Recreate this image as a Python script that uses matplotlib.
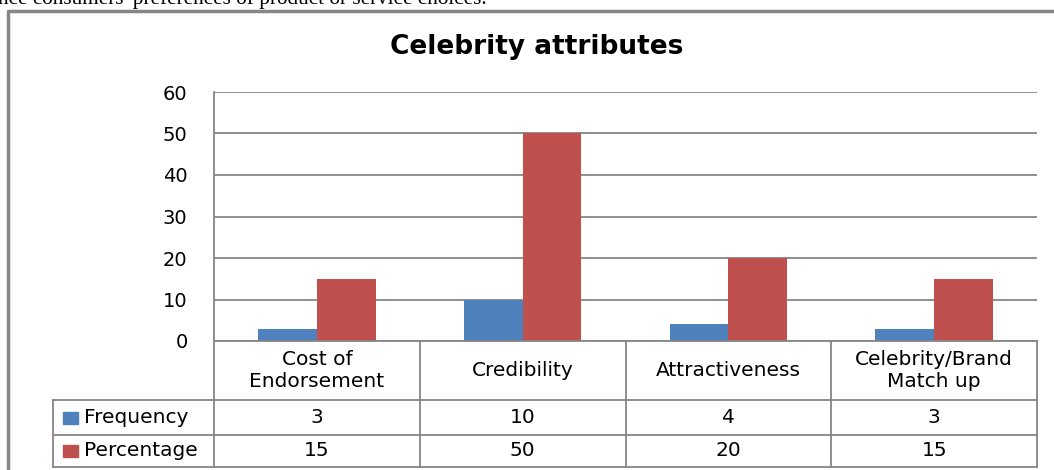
import matplotlib.pyplot as plt
from matplotlib.lines import Line2D
from matplotlib.patches import Rectangle
import numpy as np

categories = ['Cost of\nEndorsement', 'Credibility', 'Attractiveness', 'Celebrity/Brand\nMatch up']
frequency = [3, 10, 4, 3]
percentage = [15, 50, 20, 15]
series_names = ['Frequency', 'Percentage']
colors = ['#4F81BD', '#C0504D']
yticks = [0, 10, 20, 30, 40, 50, 60]

W, H = 1054, 470
fig = plt.figure(figsize=(W / 100, H / 100), dpi=100)
font = 'DejaVu Sans'
grey = '#868686'
tsize = 14.5

def fx(px):
    return px / W

def fy(py):
    return 1 - py / H

# plot area in pixels
left, right, top, base = 214, 1037, 92, 341
ax = fig.add_axes([fx(left), fy(base), fx(right - left), fy(top) - fy(base)])

x = np.arange(len(categories))
bw = 0.285
ax.bar(x - bw / 2, frequency, bw, color=colors[0], zorder=3)
ax.bar(x + bw / 2, percentage, bw, color=colors[1], zorder=3)
ax.set_xlim(-0.5, len(categories) - 0.5)
ax.set_ylim(0, 60)
ax.set_yticks(yticks)
ax.set_yticklabels([str(v) for v in yticks], fontsize=14, fontfamily=font)
ax.tick_params(axis='y', length=0, pad=19)
ax.set_xticks([])
ax.grid(axis='y', color=grey, linewidth=1.3, zorder=0)
for s in ['top', 'right', 'bottom']:
    ax.spines[s].set_visible(False)
ax.spines['left'].set_color(grey)
ax.spines['left'].set_linewidth(1.3)

# data table below the axis
col_px = [left + (right - left) * i / len(categories) for i in range(len(categories) + 1)]
row_top, row1, row2, row_bot = base, 400, 435, 467
leg_left = 53

def hline(y, x0, x1):
    fig.add_artist(Line2D([fx(x0), fx(x1)], [fy(y), fy(y)], color=grey, lw=1.3))

def vline(xp, y0, y1):
    fig.add_artist(Line2D([fx(xp), fx(xp)], [fy(y0), fy(y1)], color=grey, lw=1.3))

hline(base, left, right)
hline(row1, leg_left, right)
hline(row2, leg_left, right)
hline(row_bot, leg_left, right)
for c in col_px:
    vline(c, row_top, row_bot)
vline(leg_left, row1, row_bot)

for i, cat in enumerate(categories):
    cx = (col_px[i] + col_px[i + 1]) / 2
    fig.text(fx(cx), fy((row_top + row1) / 2), cat, ha='center', va='center',
             fontsize=tsize, fontfamily=font, linespacing=1.2)
    fig.text(fx(cx), fy((row1 + row2) / 2), str(frequency[i]), ha='center', va='center',
             fontsize=tsize, fontfamily=font)
    fig.text(fx(cx), fy((row2 + row_bot) / 2), str(percentage[i]), ha='center', va='center',
             fontsize=tsize, fontfamily=font)

for j, (name, col) in enumerate(zip(series_names, colors)):
    ymid = (row1 + row2) / 2 if j == 0 else (row2 + row_bot) / 2
    fig.add_artist(Rectangle((fx(63), fy(ymid + 6)), fx(15), fy(ymid - 6) - fy(ymid + 6),
                             color=col, transform=fig.transFigure))
    fig.text(fx(84), fy(ymid), name, ha='left', va='center', fontsize=tsize, fontfamily=font)

# title
fig.text(fx(537), fy(47), 'Celebrity attributes', ha='center', va='center',
         fontsize=19, fontweight='bold', fontfamily=font)

# chart border
fig.add_artist(Line2D([fx(8), fx(8), fx(W + 5)], [fy(H + 5), fy(11), fy(11)], color=grey, lw=2.5))

# cut-off body text from the page above
fig.text(fx(-2), fy(4), "nce consumers' preferences of product or service choices.",
         ha='left', va='baseline', fontsize=15.3, fontfamily='Liberation Serif')

fig.savefig('out.png', dpi=100)
